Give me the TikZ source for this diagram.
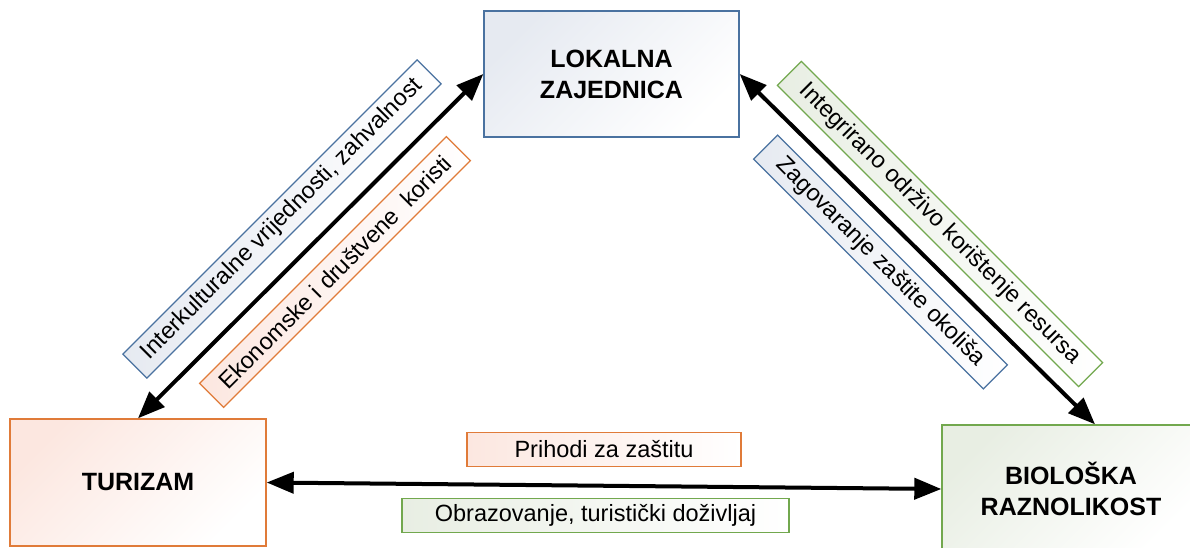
\documentclass[tikz,border=0pt]{standalone}
\usepackage{fontspec}
\setmainfont{Liberation Sans}
\usetikzlibrary{arrows.meta}
\definecolor{bl}{HTML}{4A72A0}
\definecolor{orn}{HTML}{E07B39}
\definecolor{grn}{HTML}{72A84E}
\definecolor{blt}{HTML}{E6EAF1}
\definecolor{ort}{HTML}{FCE7E0}
\definecolor{grt}{HTML}{E8EEE3}
\tikzset{
  mainbox/.style 2 args={draw=#1, line width=1.4pt, top color=#2, bottom color=white, shading angle=45,
    inner sep=0pt, align=center, font=\fontsize{25}{31}\selectfont\bfseries},
  labbox/.style 2 args={draw=#1, line width=1.2pt, left color=#2, right color=white,
    inner sep=0pt, minimum height=34pt, font=\fontsize{23.5}{28}\selectfont},
  conn/.style={line width=4pt, {Triangle[length=27pt,width=21pt]}-{Triangle[length=27pt,width=21pt]}}
}
\begin{document}
\begin{tikzpicture}[x=1pt,y=-1pt]
\useasboundingbox (0,0) rectangle (1190,548);
\clip (0,0) rectangle (1190,548);
\fill[white] (0,0) rectangle (1190,548);
% main boxes
\node[mainbox={bl}{blt}, minimum width=255pt, minimum height=126pt] (lok) at (611.5,74) {LOKALNA\\ZAJEDNICA};
\node[mainbox={orn}{ort}, minimum width=256pt, minimum height=127pt] (tur) at (138,482.5) {TURIZAM};
\node[mainbox={grn}{grt}, minimum width=258pt, minimum height=128pt] (bio) at (1071,489) {BIOLOŠKA\\RAZNOLIKOST};
% connectors
\draw[conn] (lok.west) -- (tur.north);
\draw[conn] (lok.east) -- ([xshift=24pt]bio.north);
\draw[conn] (tur.east) -- (bio.west);
% labels
\node[labbox={bl}{blt}, rotate=45, minimum width=416pt] (l1) at (282,219) {Interkulturalne vrijednosti, zahvalnost};
\node[labbox={orn}{ort}, rotate=45, minimum width=349pt] (l2) at (335,272) {Ekonomske i društvene~ koristi};
\node[labbox={grn}{grt}, rotate=-45, minimum width=426pt] (l3) at (940,224) {Integrirano održivo korištenje resursa};
\node[labbox={bl}{blt}, rotate=-45, minimum width=325pt] (l4) at (880.5,262) {Zagovaranje zaštite okoliša};
\node[labbox={orn}{ort}, minimum width=274pt] (l5) at (604,449.5) {Prihodi za zaštitu};
\node[labbox={grn}{grt}, minimum width=387pt] (l6) at (595.5,515.5) {Obrazovanje, turistički doživljaj};
\end{tikzpicture}
\end{document}
